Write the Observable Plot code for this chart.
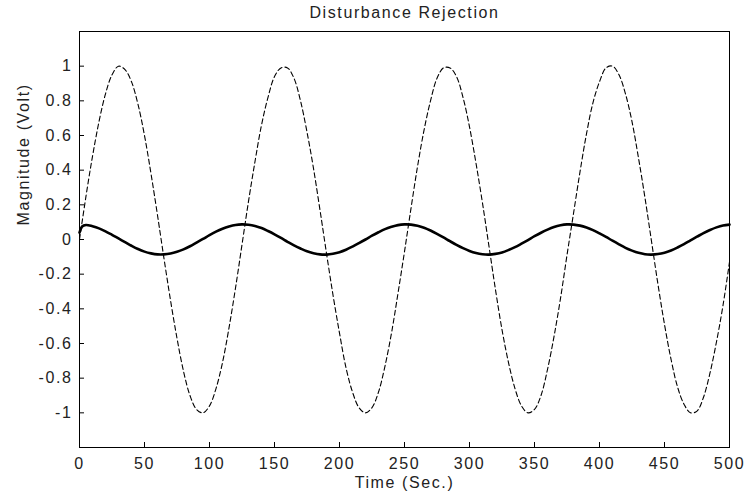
<!DOCTYPE html>
<html>
<head>
<meta charset="utf-8">
<script src="https://cdn.jsdelivr.net/npm/d3@7"></script>
<script src="https://cdn.jsdelivr.net/npm/@observablehq/plot@0.6"></script>
<style>
  html, body { margin: 0; padding: 0; background: #fff; }
  #chart svg { display: block; }
</style>
</head>
<body>
<div id="chart"></div>
<script>
const titleText = "Disturbance Rejection";
const xLabel = "Time (Sec.)";
const yLabel = "Magnitude (Volt)";
const xTicks = [0, 50, 100, 150, 200, 250, 300, 350, 400, 450, 500];
const yTicks = [-1, -0.8, -0.6, -0.4, -0.2, 0, 0.2, 0.4, 0.6, 0.8, 1];

const disturbanceTime = d3.range(0, 501, 5);
const disturbance = [
  0.00, 0.25, 0.48, 0.68, 0.84, 0.95, 1.00, 0.98, 0.91, 0.78,
  0.60, 0.38, 0.14, -0.11, -0.35, -0.57, -0.76, -0.90, -0.98, -1.00,
  -0.96, -0.86, -0.71, -0.51, -0.28, -0.03, 0.22, 0.45, 0.66, 0.82,
  0.94, 0.99, 0.99, 0.93, 0.80, 0.62, 0.41, 0.17, -0.08, -0.32,
  -0.54, -0.74, -0.88, -0.97, -1.00, -0.97, -0.88, -0.73, -0.54, -0.31,
  -0.07, 0.18, 0.42, 0.63, 0.80, 0.93, 0.99, 0.99, 0.94, 0.82,
  0.65, 0.44, 0.21, -0.04, -0.29, -0.52, -0.71, -0.86, -0.96, -1.00,
  -0.98, -0.90, -0.75, -0.56, -0.34, -0.09, 0.15, 0.39, 0.61, 0.79,
  0.91, 0.99, 1.00, 0.95, 0.84, 0.68, 0.47, 0.24, -0.01, -0.26,
  -0.49, -0.69, -0.85, -0.95, -1.00, -0.99, -0.91, -0.77, -0.59, -0.38,
  -0.13
];

// Controlled output (solid, thick)
const outputTime = [0, 2].concat(d3.range(5, 501, 5));
const output = [
  0.040, 0.075,
  0.084, 0.076, 0.064, 0.047, 0.027, 0.006, -0.015, -0.036, -0.055,
  -0.070, -0.080, -0.086, -0.086, -0.081, -0.071, -0.057, -0.039, -0.018, 0.003,
  0.025, 0.045, 0.062, 0.075, 0.084, 0.087, 0.085, 0.078, 0.066, 0.049,
  0.030, 0.009, -0.013, -0.034, -0.052, -0.068, -0.079, -0.086, -0.087, -0.082,
  -0.073, -0.059, -0.041, -0.021, 0.000, 0.022, 0.042, 0.060, 0.073, 0.083,
  0.087, 0.086, 0.079, 0.068, 0.052, 0.033, 0.012, -0.010, -0.031, -0.050,
  -0.066, -0.078, -0.085, -0.087, -0.083, -0.075, -0.061, -0.044, -0.024, -0.003,
  0.019, 0.039, 0.057, 0.072, 0.082, 0.087, 0.086, 0.080, 0.069, 0.054,
  0.035, 0.015, -0.007, -0.028, -0.048, -0.064, -0.077, -0.085, -0.087, -0.084,
  -0.076, -0.063, -0.046, -0.027, -0.005, 0.016, 0.037, 0.055, 0.070, 0.081,
  0.086
];

const distData = disturbanceTime.map((t, i) => ({t, v: disturbance[i]}));
const outData = outputTime.map((t, i) => ({t, v: output[i]}));

const fmt = d => String(Math.round(d * 10) / 10);

const W = 744, H = 494, ML = 79, MR = 15, MT = 31, MB = 47;
const TICK = 5;
const FS = 16;
const INK = "#222";

const chart = Plot.plot({
  width: W,
  height: H,
  marginLeft: ML,
  marginRight: MR,
  marginTop: MT,
  marginBottom: MB,
  style: {fontFamily: "'Liberation Sans', Arial, sans-serif", fontSize: FS + "px", letterSpacing: "1.6px", color: INK, background: "white"},
  x: {domain: [0, 500]},
  y: {domain: [-1.2, 1.2]},
  marks: [
    Plot.line(distData, {x: "t", y: "v", stroke: "black", strokeWidth: 1.1, strokeDasharray: "5,3", curve: "catmull-rom"}),
    Plot.line(outData, {x: "t", y: "v", stroke: "black", strokeWidth: 2.6, curve: "catmull-rom"}),
    Plot.tickX(xTicks, {x: d => d, stroke: "black", insetTop: (H - MT - MB) - TICK}),
    Plot.tickY(yTicks, {y: d => d, stroke: "black", insetRight: (W - ML - MR) - TICK}),
    Plot.frame({stroke: "black", strokeWidth: 1}),
    Plot.axisX(xTicks, {tickSize: 0, tickPadding: 10, tickFormat: d => String(d), label: null, fontSize: FS, fill: INK}),
    Plot.axisY(yTicks, {tickSize: 0, tickPadding: 7, tickFormat: fmt, label: null, fontSize: FS, fill: INK}),
    Plot.text([titleText], {text: d => d, frameAnchor: "top", dy: -18.5, lineAnchor: "middle", fontSize: FS, fill: INK}),
    Plot.text([xLabel], {text: d => d, frameAnchor: "bottom", dy: 35, lineAnchor: "middle", fontSize: FS, fill: INK}),
    Plot.text([yLabel], {text: d => d, frameAnchor: "left", dx: -56, dy: -14, rotate: -90, lineAnchor: "middle", fontSize: FS, fill: INK})
  ]
});
document.getElementById("chart").appendChild(chart);
</script>
</body>
</html>
